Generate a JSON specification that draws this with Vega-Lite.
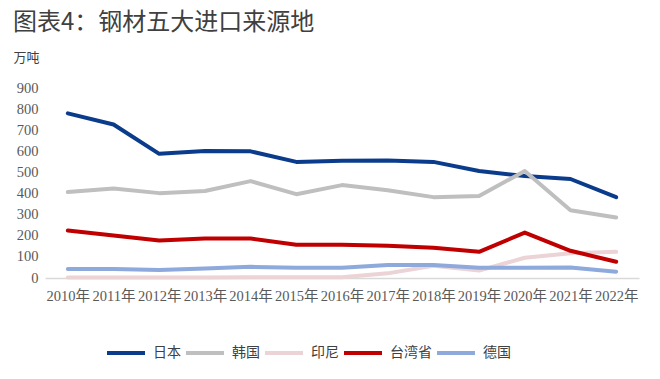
{
  "$schema": "https://vega.github.io/schema/vega-lite/v6.json",
  "width": 594,
  "height": 190,
  "autosize": {"type": "none"},
  "padding": {"left": 45, "top": 88, "right": 21, "bottom": 101},
  "background": "white",
  "config": {"view": {"stroke": null}, "font": "Liberation Serif, Noto Sans CJK SC"},
  "title": {
    "text": "图表4：钢材五大进口来源地",
    "anchor": "start",
    "frame": "group",
    "dx": -32,
    "offset": 16,
    "fontSize": 24,
    "fontWeight": "normal",
    "color": "#404040",
    "font": "Noto Sans CJK SC"
  },
  "data": {
    "values": [
      {"year": "2010年", "country": "日本", "value": 780},
      {"year": "2011年", "country": "日本", "value": 727},
      {"year": "2012年", "country": "日本", "value": 588},
      {"year": "2013年", "country": "日本", "value": 602},
      {"year": "2014年", "country": "日本", "value": 600},
      {"year": "2015年", "country": "日本", "value": 550},
      {"year": "2016年", "country": "日本", "value": 555},
      {"year": "2017年", "country": "日本", "value": 556},
      {"year": "2018年", "country": "日本", "value": 550},
      {"year": "2019年", "country": "日本", "value": 507},
      {"year": "2020年", "country": "日本", "value": 483},
      {"year": "2021年", "country": "日本", "value": 469},
      {"year": "2022年", "country": "日本", "value": 383},
      {"year": "2010年", "country": "韩国", "value": 407},
      {"year": "2011年", "country": "韩国", "value": 424},
      {"year": "2012年", "country": "韩国", "value": 402},
      {"year": "2013年", "country": "韩国", "value": 412},
      {"year": "2014年", "country": "韩国", "value": 459},
      {"year": "2015年", "country": "韩国", "value": 397},
      {"year": "2016年", "country": "韩国", "value": 440},
      {"year": "2017年", "country": "韩国", "value": 416},
      {"year": "2018年", "country": "韩国", "value": 383},
      {"year": "2019年", "country": "韩国", "value": 388},
      {"year": "2020年", "country": "韩国", "value": 507},
      {"year": "2021年", "country": "韩国", "value": 321},
      {"year": "2022年", "country": "韩国", "value": 287},
      {"year": "2010年", "country": "印尼", "value": 2},
      {"year": "2011年", "country": "印尼", "value": 2},
      {"year": "2012年", "country": "印尼", "value": 2},
      {"year": "2013年", "country": "印尼", "value": 2},
      {"year": "2014年", "country": "印尼", "value": 3},
      {"year": "2015年", "country": "印尼", "value": 3},
      {"year": "2016年", "country": "印尼", "value": 4},
      {"year": "2017年", "country": "印尼", "value": 22},
      {"year": "2018年", "country": "印尼", "value": 58},
      {"year": "2019年", "country": "印尼", "value": 35},
      {"year": "2020年", "country": "印尼", "value": 96},
      {"year": "2021年", "country": "印尼", "value": 117},
      {"year": "2022年", "country": "印尼", "value": 124},
      {"year": "2010年", "country": "台湾省", "value": 225},
      {"year": "2011年", "country": "台湾省", "value": 201},
      {"year": "2012年", "country": "台湾省", "value": 178},
      {"year": "2013年", "country": "台湾省", "value": 187},
      {"year": "2014年", "country": "台湾省", "value": 187},
      {"year": "2015年", "country": "台湾省", "value": 158},
      {"year": "2016年", "country": "台湾省", "value": 158},
      {"year": "2017年", "country": "台湾省", "value": 153},
      {"year": "2018年", "country": "台湾省", "value": 143},
      {"year": "2019年", "country": "台湾省", "value": 124},
      {"year": "2020年", "country": "台湾省", "value": 215},
      {"year": "2021年", "country": "台湾省", "value": 129},
      {"year": "2022年", "country": "台湾省", "value": 77},
      {"year": "2010年", "country": "德国", "value": 43},
      {"year": "2011年", "country": "德国", "value": 43},
      {"year": "2012年", "country": "德国", "value": 38},
      {"year": "2013年", "country": "德国", "value": 45},
      {"year": "2014年", "country": "德国", "value": 53},
      {"year": "2015年", "country": "德国", "value": 48},
      {"year": "2016年", "country": "德国", "value": 48},
      {"year": "2017年", "country": "德国", "value": 62},
      {"year": "2018年", "country": "德国", "value": 62},
      {"year": "2019年", "country": "德国", "value": 48},
      {"year": "2020年", "country": "德国", "value": 48},
      {"year": "2021年", "country": "德国", "value": 50},
      {"year": "2022年", "country": "德国", "value": 30}
    ]
  },
  "mark": {"type": "line", "strokeWidth": 4, "strokeCap": "round", "strokeJoin": "round"},
  "encoding": {
    "x": {
      "field": "year",
      "type": "ordinal",
      "scale": {"type": "point", "padding": 0.5},
      "axis": {
        "title": null,
        "labelAngle": 0,
        "labelOverlap": false,
        "labelFontSize": 14.5,
        "labelColor": "#595959",
        "labelPadding": 11,
        "ticks": false,
        "domainColor": "#D9D9D9",
        "domainWidth": 1.5
      }
    },
    "y": {
      "field": "value",
      "type": "quantitative",
      "scale": {"domain": [0, 900], "nice": false},
      "axis": {
        "values": [0, 100, 200, 300, 400, 500, 600, 700, 800, 900],
        "grid": false,
        "domain": false,
        "ticks": false,
        "labelFontSize": 14.5,
        "labelColor": "#595959",
        "labelPadding": 7,
        "title": "万吨",
        "titleAngle": 0,
        "titleX": -32,
        "titleY": -31,
        "titleAlign": "left",
        "titleBaseline": "middle",
        "titleFontSize": 13,
        "titleFontWeight": "normal",
        "titleColor": "#404040",
        "titleFont": "Noto Sans CJK SC"
      }
    },
    "color": {
      "field": "country",
      "type": "nominal",
      "scale": {
        "domain": ["日本", "韩国", "印尼", "台湾省", "德国"],
        "range": ["#0B3C8C", "#BFBFBF", "#EBD3D6", "#C00000", "#8EA9DB"]
      },
      "legend": {
        "title": null,
        "orient": "none",
        "direction": "horizontal",
        "legendX": 60,
        "legendY": 244,
        "symbolType": "stroke",
        "symbolSize": 1444,
        "symbolStrokeWidth": 4,
        "labelFontSize": 14,
        "labelColor": "#404040",
        "labelFont": "Noto Sans CJK SC",
        "labelOffset": 6,
        "columnPadding": -3
      }
    },
    "order": {"field": "country"}
  }
}
